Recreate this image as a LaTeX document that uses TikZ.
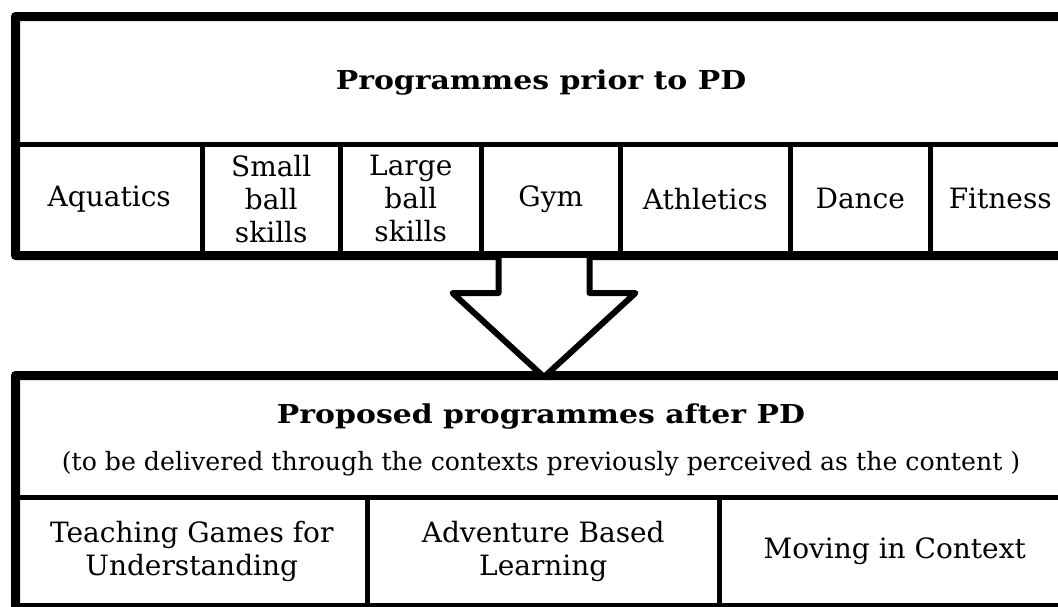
\documentclass[tikz,border=0pt]{standalone}
\usepackage{fontspec}
\setmainfont{DejaVu Serif}
\newfontfamily\headfont[FakeStretch=1.15]{DejaVu Serif}
\usetikzlibrary{calc,shadows}

\begin{document}
\begin{tikzpicture}[x=1pt,y=-1pt,
  boxframe/.style={draw=black, line width=6pt, rounded corners=2pt, fill=white,
    anchor=north west, inner sep=0pt,
    drop shadow={shadow xshift=0.5pt, shadow yshift=-3.5pt, opacity=0.35}},
  cell/.style={draw=black, line width=4.5pt, anchor=north west, inner sep=0pt,
    align=center, font=\fontsize{28}{33}\selectfont},
  headtext/.style={anchor=base, inner sep=0pt, font=\headfont\bfseries\fontsize{26}{30}\selectfont},
  subtext/.style={anchor=base, inner sep=0pt, font=\fontsize{25.2}{30}\selectfont}
]
\useasboundingbox (0,0) rectangle (1058,606);
\clip (0,0) rectangle (1058,606);

% ---- programmes prior to PD ----
\node[boxframe, minimum width=1054pt, minimum height=236pt] (prior) at (14,15) {};
\node[headtext] (priorhead) at (541,89) {Programmes prior to PD};
\node[cell, minimum width=186pt, minimum height=109pt] (aquatics)  at (14,142)  {Aquatics};
\node[cell, minimum width=138pt, minimum height=109pt] (smallball) at (200,142) {Small\\ball\\skills};
\node[cell, minimum width=141pt, minimum height=109pt] (largeball) at (338,142) {Large\\ball\\skills};
\node[cell, minimum width=139pt, minimum height=109pt] (gym)       at (479,142) {Gym};
\node[cell, minimum width=170pt, minimum height=109pt] (athletics) at (618,142) {Athletics};
\node[cell, minimum width=140pt, minimum height=109pt] (dance)     at (788,142) {Dance};
\node[cell, minimum width=140pt, minimum height=109pt] (fitness)   at (928,142) {Fitness};
\draw[line width=6pt, rounded corners=2pt] (prior.north west) rectangle (prior.south east);

% ---- proposed programmes after PD ----
\node[boxframe, minimum width=1054pt, minimum height=229pt] (after) at (14,374) {};
\node[headtext] (afterhead) at (541,423) {Proposed programmes after PD};
\node[subtext] (aftersub) at (541,470) {(to be delivered through the contexts previously perceived as the content )};
\node[cell, minimum width=351pt, minimum height=108pt] (tgfu)      at (14,495)  {Teaching Games for\\Understanding};
\node[cell, minimum width=352pt, minimum height=108pt] (adventure) at (365,495) {Adventure Based\\Learning};
\node[cell, minimum width=351pt, minimum height=108pt] (moving)    at (717,495) {Moving in Context};
\draw[line width=6pt, rounded corners=2pt] (after.north west) rectangle (after.south east);

% ---- block arrow from the old programmes to the new ones ----
\coordinate (shaftL) at ($(prior.south)+(-45.5,1)$);
\coordinate (shaftR) at ($(prior.south)+(45.5,1)$);
\coordinate (tip) at ($(after.north)+(0,3)$);
\fill[white, drop shadow={shadow xshift=0.5pt, shadow yshift=-3.5pt, opacity=0.35}]
  (shaftL) -- ($(shaftL)+(0,35)$) -- ($(shaftL)+(-46,35)$) -- (tip)
  -- ($(shaftR)+(46,35)$) -- ($(shaftR)+(0,35)$) -- (shaftR) -- cycle;
\draw[line width=6pt, line join=round]
  (shaftL) -- ($(shaftL)+(0,35)$) -- ($(shaftL)+(-46,35)$) -- (tip)
  -- ($(shaftR)+(46,35)$) -- ($(shaftR)+(0,35)$) -- (shaftR);
\end{tikzpicture}
\end{document}
